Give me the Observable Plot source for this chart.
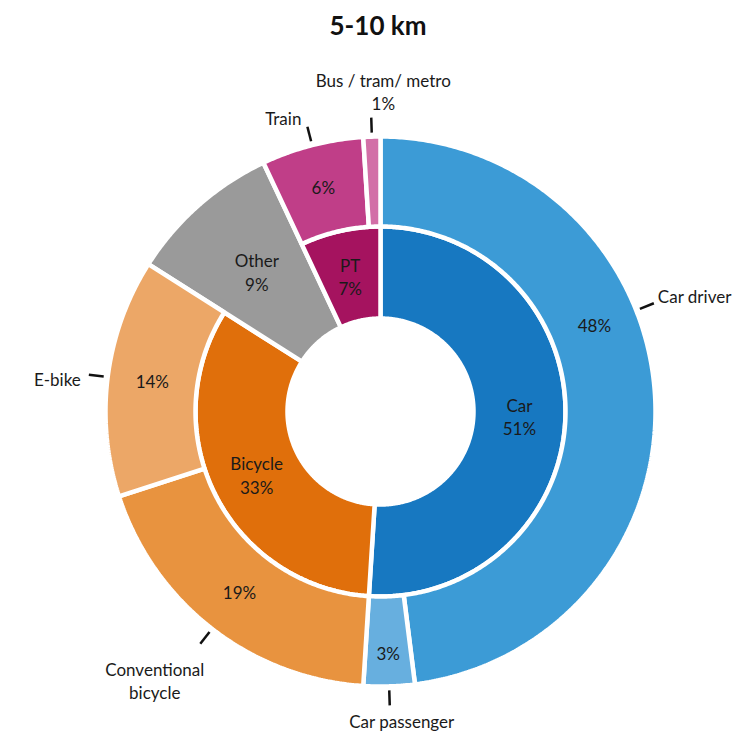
<!DOCTYPE html>
<html><head><meta charset="utf-8">
<script src="https://cdn.jsdelivr.net/npm/d3@7"></script>
<script src="https://cdn.jsdelivr.net/npm/@observablehq/plot@0.6"></script>
<style>
html,body{margin:0;padding:0;background:#fff;}
#title{width:738px;box-sizing:border-box;padding-left:18px;height:50px;line-height:50px;text-align:center;font-family:Lato,sans-serif;font-weight:bold;font-size:26px;color:#111;}
svg{display:block;}
</style></head>
<body>
<div id="title">5-10 km</div>
<div id="chart"></div>
<script>
// ---- data ----
const innerNames  = ["Car", "Bicycle", "Other", "PT"];
const innerValues = [51, 33, 9, 7];
const innerColors = ["#1778c1", "#e06f0b", "#9a9a9a", "#a5135f"];

const outerNames   = ["Car driver", "Car passenger", "Conventional bicycle", "E-bike", "Other", "Train", "Bus / tram/ metro"];
const outerValues  = [48, 3, 19, 14, 9, 6, 1];
const outerParents = ["Car", "Car", "Bicycle", "Bicycle", "Other", "PT", "PT"];
const outerColors  = ["#3c9bd6", "#67afdf", "#e8933f", "#eca767", "#9a9a9a", "#c03e88", "#d26fa7"];
const outerDisplay = ["Car driver", "Car passenger", "Conventional\nbicycle", "E-bike", "Other", "Train", "Bus / tram/ metro"];

// ---- layout ----
const W = 738, H = 686;
const cx = 380, cy = 361;
const rHole = 93, rMid = 185, rOut = 275;
const tickR0 = 279, tickR1 = 294;
const labelFrac = {"Car driver": 0.19};
const FS = 17;
const TAU = 2 * Math.PI;
const total = d3.sum(innerValues);

function pt(a, r) { return [cx + r * Math.sin(a), cy - r * Math.cos(a)]; }
function arcPoly(id, color, a0, a1, r0, r1) {
  const pts = [];
  const n = Math.max(2, Math.ceil((a1 - a0) / (Math.PI / 360)));
  for (let i = 0; i <= n; i++) { const [x, y] = pt(a0 + (a1 - a0) * i / n, r1); pts.push({id, color, x, y}); }
  for (let i = n; i >= 0; i--) { const [x, y] = pt(a0 + (a1 - a0) * i / n, r0); pts.push({id, color, x, y}); }
  pts.push({...pts[0]});
  return pts;
}

// merged categories: inner category with a single child of the same name
const merged = new Set(innerNames.filter(n => {
  const kids = outerNames.filter((_, i) => outerParents[i] === n);
  return kids.length === 1 && kids[0] === n;
}));

const polys = [], innerLabels = [], pctLabels = [], ticks = [], extLabels = [];

let acc = 0;
innerNames.forEach((name, i) => {
  const a0 = acc / total * TAU, a1 = (acc + innerValues[i]) / total * TAU;
  acc += innerValues[i];
  const m = (a0 + a1) / 2;
  if (merged.has(name)) {
    polys.push(...arcPoly("in-" + name, innerColors[i], a0, a1, rHole, rOut));
    const [x, y] = pt(m, rMid + 2);
    innerLabels.push({x, y, text: name + "\n" + innerValues[i] + "%"});
  } else {
    polys.push(...arcPoly("in-" + name, innerColors[i], a0, a1, rHole, rMid));
    const [x, y] = pt(m, (rHole + rMid) / 2);
    innerLabels.push({x, y, text: name + "\n" + innerValues[i] + "%"});
  }
});

const ctx = document.createElement("canvas").getContext("2d");
ctx.font = `${FS}px Lato`;
function textW(s) { return d3.max(s.split("\n"), l => ctx.measureText(l).width); }

acc = 0;
outerNames.forEach((name, i) => {
  const a0 = acc / total * TAU, a1 = (acc + outerValues[i]) / total * TAU;
  acc += outerValues[i];
  if (merged.has(name)) return;
  polys.push(...arcPoly("out-" + name, outerColors[i], a0, a1, rMid, rOut));
  const m = labelFrac[name] !== undefined ? labelFrac[name] * TAU : (a0 + a1) / 2;
  const inside = outerValues[i] >= 3;
  if (inside) {
    const [x, y] = pt(m, outerValues[i] < 5 ? 243 : 230);
    pctLabels.push({x, y, text: outerValues[i] + "%"});
  }
  const [x1, y1] = pt(m, tickR0), [x2, y2] = pt(m, tickR1);
  ticks.push({x1, y1, x2, y2});
  const text = outerDisplay[i] + (inside ? "" : "\n" + outerValues[i] + "%");
  const s = Math.sin(m), c = Math.cos(m);
  let lab;
  if (Math.abs(s) < 0.15) {
    lab = c > 0 ? {x: x2 + 12, y: y2 - 8, anchor: "middle", line: "bottom"}
                : {x: x2 + 12, y: y2 + 6, anchor: "middle", line: "top"};
  } else if (s > 0) {
    lab = {x: x2 + 4, y: y2 - 8, anchor: "start", line: "middle"};
  } else if (c > 0.5) {
    lab = {x: x2 - 6, y: y2 - 9, anchor: "end", line: "middle"};
  } else if (c < -0.5) {
    lab = {x: x2 - textW(text) / 2 + 4, y: y2 + 16, anchor: "middle", line: "top"};
  } else {
    lab = {x: x2 - 8, y: y2 + 4, anchor: "end", line: "middle"};
  }
  extLabels.push({...lab, text});
});

const textColor = "#1a1a1a";
const chart = Plot.plot({
  width: W, height: H, margin: 0,
  x: {domain: [0, W], range: [0, W], axis: null},
  y: {domain: [0, H], range: [0, H], axis: null},
  color: {type: "identity"},
  style: {fontFamily: "Lato, sans-serif", background: "#fff"},
  marks: [
    Plot.line(polys, {x: "x", y: "y", z: "id", fill: "color", stroke: "white", strokeWidth: 4.5, strokeLinejoin: "miter", curve: "linear"}),
    Plot.link(ticks, {x1: "x1", y1: "y1", x2: "x2", y2: "y2", stroke: "#111", strokeWidth: 2.5}),
    Plot.text(innerLabels, {x: "x", y: "y", text: "text", fontSize: FS, lineHeight: 1.4, fill: textColor}),
    Plot.text(pctLabels, {x: "x", y: "y", text: "text", fontSize: FS, fill: textColor}),
    ...["start", "middle", "end"].flatMap(anchor => ["top", "middle", "bottom"].map(line =>
      Plot.text(extLabels.filter(d => d.anchor === anchor && d.line === line),
        {x: "x", y: "y", text: "text", textAnchor: anchor, lineAnchor: line, fontSize: FS, lineHeight: 1.35, fill: textColor})))
  ]
});
document.getElementById("chart").appendChild(chart);
</script>
</body></html>
